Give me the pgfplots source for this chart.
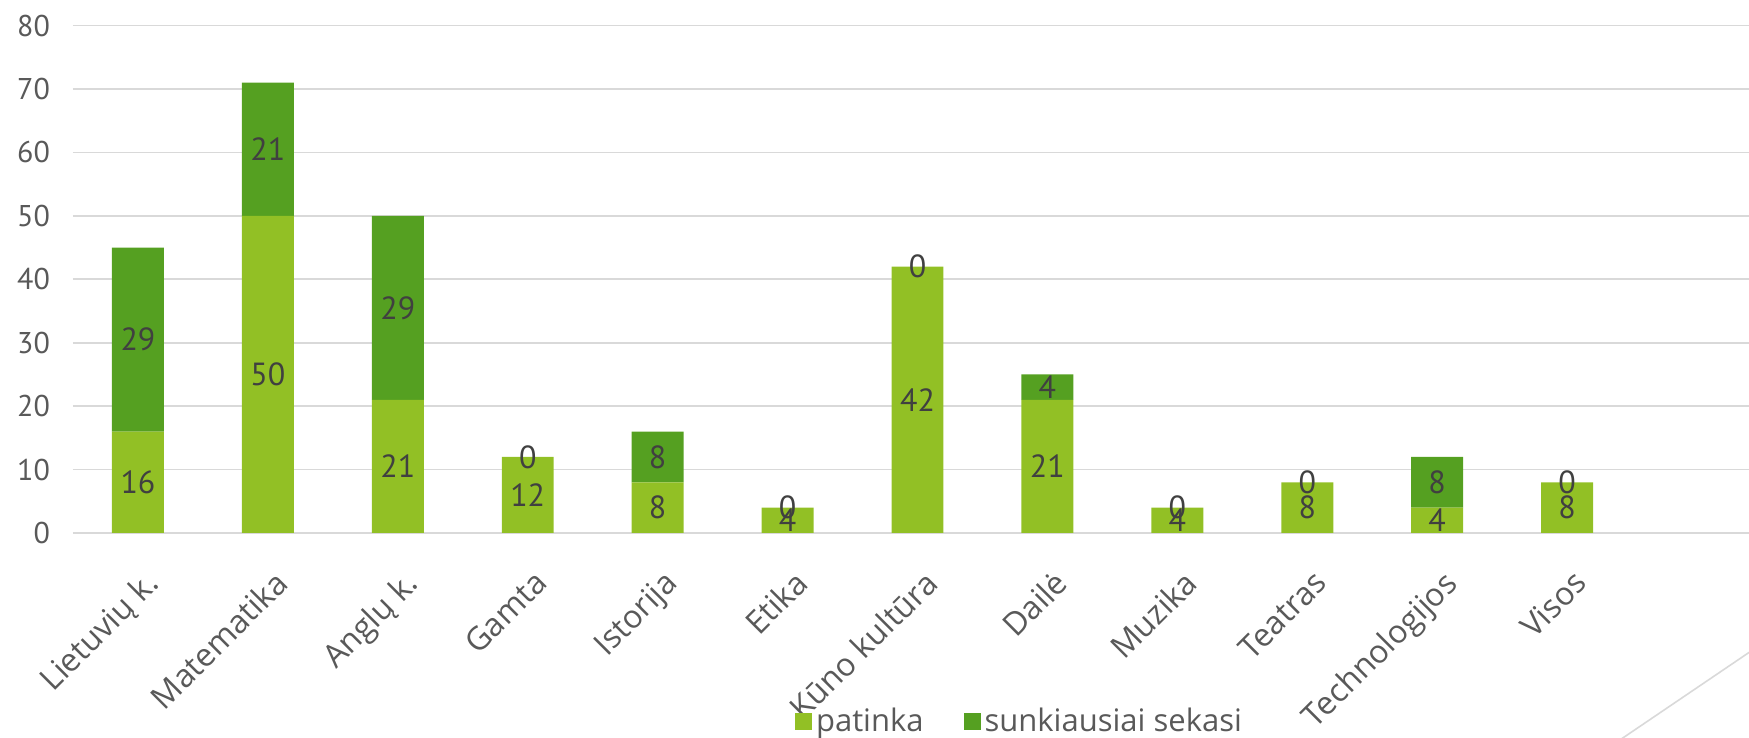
\documentclass[border=0pt]{standalone}
\usepackage{fontspec}
\setmainfont{PT Sans}
\newfontfamily\labfont{Open Sans}
\usepackage{pgfplots}
\pgfplotsset{compat=1.18}
\definecolor{lg}{HTML}{92C025}
\definecolor{dg}{HTML}{55A021}
\definecolor{gridc}{HTML}{D9D9D9}
\definecolor{tickc}{HTML}{595959}
\definecolor{labc}{HTML}{404040}
\pgfplotstableread{
x p s
0 16 29
1 50 21
2 21 29
3 12 0
4 8 8
5 4 0
6 42 0
7 21 4
8 4 0
9 8 0
10 4 8
11 8 0
}\datatab
\pgfplotstableread{
x y l
0 8 16
0 30.5 29
1 25 50
1 60.5 21
2 10.5 21
2 35.5 29
3 6 12
3 12 0
4 4 8
4 12 8
5 2 4
5 4 0
6 21 42
6 42 0
7 10.5 21
7 23 4
8 2 4
8 4 0
9 4 8
9 8 0
10 2 4
10 8 8
11 4 8
11 8 0
}\labtab
\begin{document}
\begin{tikzpicture}
\useasboundingbox (0,0) rectangle (874.5pt,369pt);
\draw[gridc, line width=0.8pt] (804pt,-5pt) -- (880pt,46.5pt);
\pgfplotsset{
  common/.style={
    at={(36.5pt,102.5pt)}, anchor=south west,
    scale only axis, width=838pt, height=253.7pt,
    xmin=-0.5, xmax=12.4, ymin=0, ymax=80,
  }
}
\begin{axis}[
  common,
  ybar stacked, bar width=0.4,
  ytick={0,10,...,80},
  xtick={0,...,11},
  xticklabels={Lietuvių k.,Matematika,Anglų k.,Gamta,Istorija,Etika,Kūno kultūra,Dailė,Muzika,Teatras,Technologijos,Visos},
  ymajorgrids, grid style={gridc, line width=0.9pt},
  axis line style={draw=none},
  major tick length=0pt,
  /pgf/number format/assume math mode=true,
  yticklabel style={font=\fontsize{15}{18}\selectfont, text=tickc, xshift=-8pt},
  xticklabel style={font=\labfont\fontsize{16}{19}\selectfont, text=tickc,
    yshift=-17.5pt, xshift=2.5pt, rotate=45, anchor=north east, inner sep=0pt},
  legend style={at={(0.4308,-0.3715)}, anchor=west, draw=none, fill=none,
    inner sep=0pt, outer sep=0pt,
    font=\labfont\fontsize{15.5}{18}\selectfont, text=tickc, legend columns=2,
    /tikz/every even column/.append style={column sep=18pt}},
  legend image code/.code={\fill[#1] (0pt,-4.25pt) rectangle (8.5pt,4.25pt);},
]
\addplot[fill=lg, draw=none] table[x=x, y=p] {\datatab};
\addplot[fill=dg, draw=none] table[x=x, y=s] {\datatab};
\legend{patinka, sunkiausiai sekasi}
\end{axis}
\begin{axis}[
  common, hide axis,
]
\addplot[draw=none, mark=none, nodes near coords, point meta=explicit symbolic,
  nodes near coords style={anchor=center, font=\fontsize{16}{19}\selectfont, text=labc}]
  table[x=x, y=y, meta=l] {\labtab};
\end{axis}
\end{tikzpicture}
\end{document}
